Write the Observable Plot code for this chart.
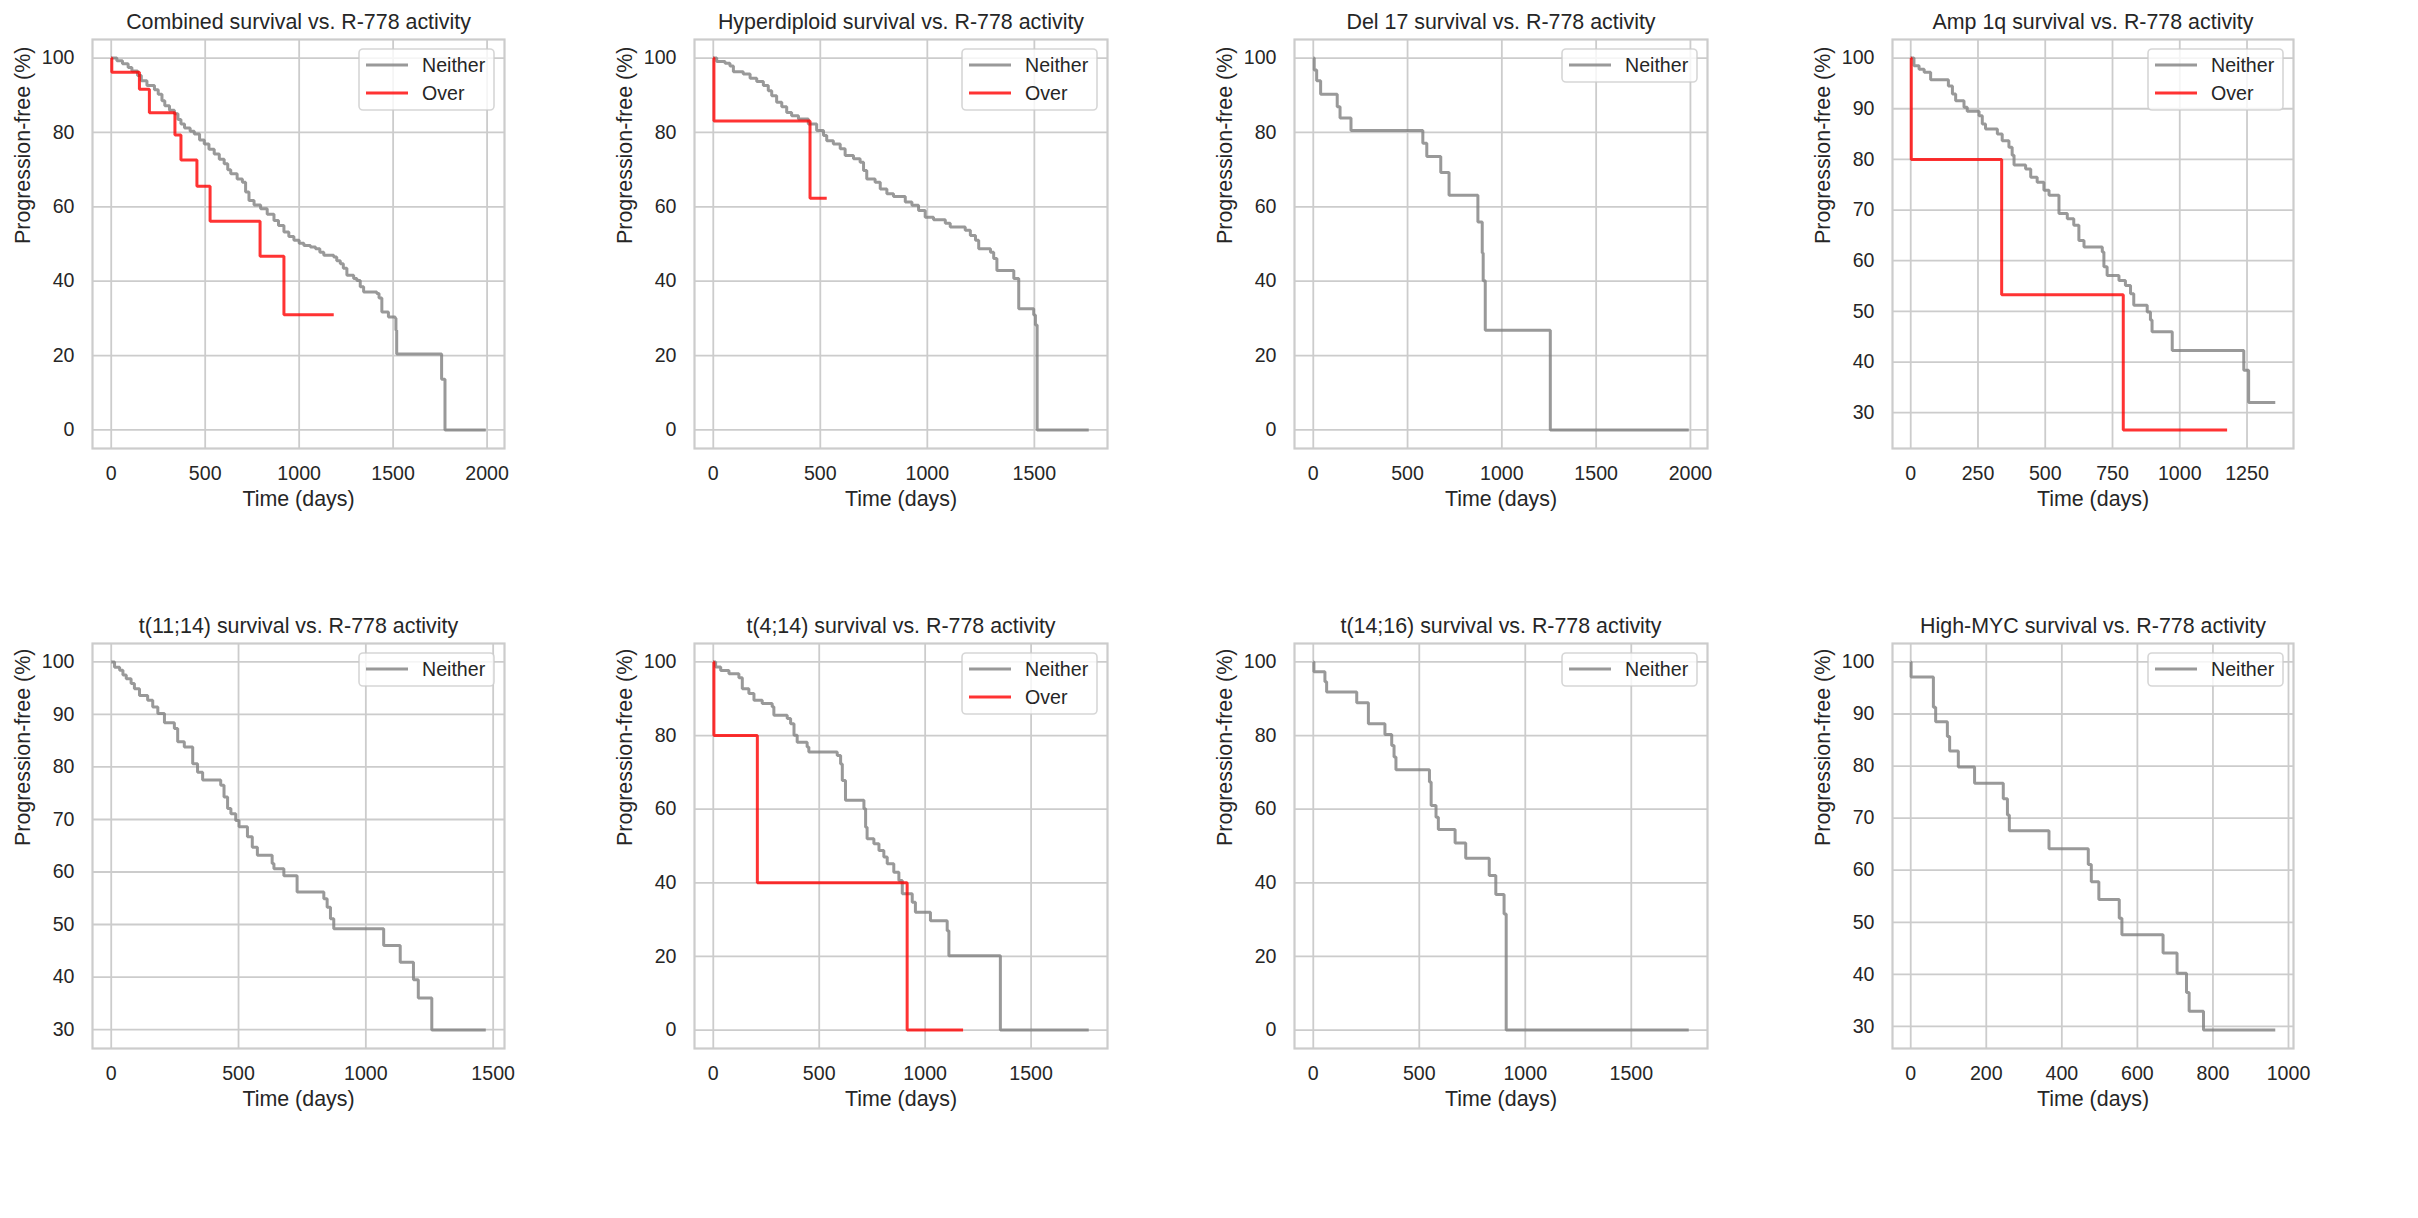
<!DOCTYPE html>
<html><head><meta charset="utf-8">
<script src="https://cdn.jsdelivr.net/npm/d3@7"></script>
<script src="https://cdn.jsdelivr.net/npm/@observablehq/plot@0.6"></script>
<style>
body{margin:0;background:#fff;}
#root{position:relative;width:2418px;height:1218px;overflow:hidden;font-family:"Liberation Sans",Arial,sans-serif;}
#root svg{position:absolute;}
</style></head><body><div id="root"></div>
<script>
// ---------- data: [time (days), progression-free (%)] step points ----------
const titles = [
  "Combined survival vs. R-778 activity",
  "Hyperdiploid survival vs. R-778 activity",
  "Del 17 survival vs. R-778 activity",
  "Amp 1q survival vs. R-778 activity",
  "t(11;14) survival vs. R-778 activity",
  "t(4;14) survival vs. R-778 activity",
  "t(14;16) survival vs. R-778 activity",
  "High-MYC survival vs. R-778 activity"
];
const seriesNames = ["Neither", "Over"];

const combinedNeither = [[0,100],[30,99.3],[60,98.5],[90,97.5],[110,96.5],[140,95.3],[160,93.9],[190,92.6],[230,91.5],[250,90.3],[270,88.5],[285,87.2],[310,86],[336,85],[355,83.5],[371,82.3],[390,81.2],[420,80.3],[442,79.6],[470,78],[495,76.9],[520,75.5],[548,74.2],[575,72.8],[601,71.6],[620,70],[636,68.9],[670,67.5],[698,66.6],[715,64],[733,61.7],[760,60.5],[795,59.5],[830,58],[866,56.3],[890,55],[919,53.2],[945,52],[972,51],[1000,50.2],[1025,49.6],[1060,49.2],[1087,48.7],[1110,47.8],[1131,47],[1184,46.5],[1200,45.5],[1219,44.7],[1235,43.5],[1254,41.6],[1290,40.7],[1307,40.2],[1325,38.5],[1343,37.1],[1413,36.7],[1425,35.5],[1440,31.7],[1475,30.4],[1511,30],[1515,26.8],[1519,20.4],[1758,13.6],[1776,0],[1993,0]];
const combinedOver = [[0,100],[3,96.2],[150,91.6],[203,85.3],[339,79.3],[371,72.6],[456,65.5],[526,56.1],[792,46.7],[919,31.0],[1184,31.0]];

const hyperNeither = [[0,100],[16,99.1],[55,98.6],[78,97.9],[94,96.3],[140,95.7],[172,94.6],[203,93.7],[234,92.6],[257,91.2],[273,89.9],[296,88.1],[320,86.9],[343,85.4],[366,84.5],[398,83.6],[444,82.3],[483,80.5],[515,79.2],[530,77.8],[561,76.9],[593,75.6],[616,73.8],[655,72.9],[686,72],[702,69.8],[717,67.5],[756,66.6],[780,64.8],[811,63.5],[842,62.8],[897,61.3],[928,60.4],[959,59],[990,57.2],[1029,56.5],[1084,55.6],[1107,54.6],[1177,53.7],[1201,52.3],[1225,51],[1240,48.7],[1295,47.8],[1310,46.1],[1325,42.9],[1404,40.7],[1427,32.6],[1497,30.9],[1505,28.2],[1513,0],[1754,0]];
const hyperOver = [[0,100],[3,83.1],[452,62.3],[530,62.3]];

const del17Neither = [[0,100],[5,96.8],[18,93.9],[39,90.3],[127,86.9],[142,83.9],[200,80.5],[581,77.1],[602,73.5],[676,69.2],[720,63.1],[873,55.9],[896,47.6],[901,40.1],[912,26.8],[1257,0],[1991,0]];

const amp1qNeither = [[0,100],[12,98.5],[31,97.8],[50,97.2],[74,95.7],[140,94.5],[155,92.9],[167,91.6],[198,90.3],[210,89.5],[254,88.6],[266,87],[278,86],[322,85],[340,83.7],[365,82.4],[377,80.8],[384,78.9],[427,78.1],[446,76.5],[470,75.5],[495,73.9],[514,72.9],[551,69.3],[582,68.3],[606,67],[625,64],[644,62.7],[712,61.7],[718,58.8],[730,57.1],[774,56.1],[798,55.1],[817,53.5],[829,51.2],[879,49.9],[891,48.3],[897,46],[972,42.3],[1238,38.4],[1256,32],[1355,32]];
const amp1qOver = [[0,100],[2,80],[338,53.3],[790,26.6],[1176,26.6]];

const t1114Neither = [[0,100],[13,99],[33,98.4],[46,97.5],[59,96.8],[78,95.9],[91,94.9],[111,93.6],[143,92.7],[163,91.4],[183,90.2],[209,88.4],[248,87.3],[261,84.8],[287,83.8],[320,80.6],[339,79],[359,77.5],[430,76.5],[443,74.3],[457,72.1],[470,71.1],[489,69.8],[502,68.6],[535,66.7],[554,64.7],[574,63.2],[632,61.6],[639,60.6],[678,59.3],[730,56.2],[835,54.9],[848,53.3],[861,51.1],[874,49.2],[1070,46],[1135,42.8],[1187,39.5],[1206,36],[1259,29.9],[1471,29.9]];

const t414Neither = [[0,100],[11,98.6],[35,97.7],[74,96.8],[121,95.7],[137,92.7],[168,91.4],[192,89.6],[231,88.7],[278,87.8],[286,85.5],[349,84.6],[365,83.2],[381,80.1],[396,78.2],[443,76.9],[451,75.5],[585,74.6],[601,72.3],[609,67.8],[624,62.4],[711,60.1],[719,55.1],[726,52],[758,50.6],[782,48.8],[805,47],[821,45.2],[852,42.9],[876,40.6],[892,37],[939,34.7],[954,32],[1025,29.7],[1104,27],[1112,20.2],[1355,0],[1772,0]];
const t414Over = [[0,100],[3,80],[208,40],[915,0],[1179,0]];

const t1416Neither = [[0,100],[3,97.3],[55,94.6],[63,91.8],[205,88.9],[260,83.2],[338,80.3],[370,77.3],[381,74.2],[390,70.7],[548,67.4],[556,61],[579,57.8],[590,54.5],[669,50.8],[719,46.7],[830,42],[861,36.8],[900,31.5],[910,0],[1771,0]];

const mycNeither = [[0,100],[1,97.1],[60,91.3],[66,88.5],[97,85.7],[103,82.9],[126,79.8],[169,76.7],[245,73.7],[256,70.6],[261,67.6],[366,64.1],[470,61.1],[478,57.8],[498,54.4],[552,50.8],[559,47.6],[668,44.1],[705,40.2],[730,36.5],[737,32.9],[775,29.3],[965,29.3]];

const panelSeries = [
  [combinedNeither, combinedOver],
  [hyperNeither, hyperOver],
  [del17Neither],
  [amp1qNeither, amp1qOver],
  [t1114Neither],
  [t414Neither, t414Over],
  [t1416Neither],
  [mycNeither]
];

const xTickSets = [
  [0,500,1000,1500,2000],
  [0,500,1000,1500],
  [0,500,1000,1500,2000],
  [0,250,500,750,1000,1250],
  [0,500,1000,1500],
  [0,500,1000,1500],
  [0,500,1000,1500],
  [0,200,400,600,800,1000]
];
const yTickSets = [
  [0,20,40,60,80,100],
  [0,20,40,60,80,100],
  [0,20,40,60,80,100],
  [30,40,50,60,70,80,90,100],
  [30,40,50,60,70,80,90,100],
  [0,20,40,60,80,100],
  [0,20,40,60,80,100],
  [30,40,50,60,70,80,90,100]
];
const xLabel = "Time (days)";
const yLabel = "Progression-free (%)";

// ---------- layout & style ----------
const frames = [
  [92,39,504,448],[694,39,1107,448],[1294,39,1707,448],[1892,39,2293,448],
  [92,643,504,1048],[694,643,1107,1048],[1294,643,1707,1048],[1892,643,2293,1048]
];
const colors = ["gray", "red"];
const textColor = "#262626";
const gridColor = "#cccccc";
const font = "Liberation Sans, Arial, sans-serif";
const ml = 95, mr = 14, mt = 45, mb = 75;
const lineW = 3;

const root = document.getElementById("root");

panelSeries.forEach((series, pi) => {
  const [L, T, R, B] = frames[pi];
  const W = R - L, H = B - T;
  const allT = series.flatMap(s => s.map(d => d[0]));
  const allS = series.flatMap(s => s.map(d => d[1]));
  const [x0, x1] = d3.extent(allT);
  const [y0, y1] = d3.extent(allS);
  const xp = (x1 - x0) * 0.05, yp = (y1 - y0) * 0.05;

  const lines = series.map((s, si) => Plot.line(s, {
    x: d => d[0], y: d => d[1], curve: "step-after",
    stroke: colors[si], strokeOpacity: 0.8, strokeWidth: lineW,
    strokeLinejoin: "miter", strokeLinecap: "butt"
  }));

  const chart = Plot.plot({
    width: W + ml + mr, height: H + mt + mb,
    marginLeft: ml, marginRight: mr, marginTop: mt, marginBottom: mb,
    style: {fontFamily: font, color: textColor, background: "transparent", overflow: "visible"},
    x: {domain: [x0 - xp, x1 + xp]},
    y: {domain: [y0 - yp, y1 + yp]},
    marks: [
      Plot.gridX(xTickSets[pi], {stroke: gridColor, strokeOpacity: 1, strokeWidth: 1.8}),
      Plot.gridY(yTickSets[pi], {stroke: gridColor, strokeOpacity: 1, strokeWidth: 1.8}),
      Plot.frame({stroke: gridColor, strokeWidth: 2.2}),
      Plot.axisX(xTickSets[pi], {tickSize: 0, tickPadding: 18, fontSize: 19.6, label: null, tickFormat: d => String(d), fill: textColor}),
      Plot.axisY(yTickSets[pi], {tickSize: 0, tickPadding: 18, fontSize: 19.6, label: null, tickFormat: d => String(d), fill: textColor}),
      ...lines,
      Plot.text([titles[pi]], {text: d => d, frameAnchor: "top", dy: -17, fontSize: 21.4, lineAnchor: "middle", fill: textColor}),
      Plot.text([xLabel], {text: d => d, frameAnchor: "bottom", dy: 51, fontSize: 21.4, lineAnchor: "middle", fill: textColor}),
      Plot.text([yLabel], {text: d => d, frameAnchor: "left", dx: -69, rotate: -90, fontSize: 21.4, lineAnchor: "middle", fill: textColor})
    ]
  });
  chart.style.left = (L - ml) + "px";
  chart.style.top = (T - mt) + "px";

  // legend (upper right)
  const svg = d3.select(chart);
  const n = series.length;
  const bw = 135, bh = n === 1 ? 33 : 61;
  const bx = ml + W - 10 - bw, by = mt + 10;
  const g = svg.append("g").attr("text-anchor", "start");
  g.append("rect").attr("x", bx).attr("y", by).attr("width", bw).attr("height", bh)
    .attr("rx", 4).attr("fill", "white").attr("fill-opacity", 0.8)
    .attr("stroke", "#cccccc").attr("stroke-opacity", 0.8).attr("stroke-width", 1.6);
  series.forEach((s, si) => {
    const yy = by + 16 + 28 * si;
    g.append("line").attr("x1", bx + 7).attr("x2", bx + 49).attr("y1", yy).attr("y2", yy)
      .attr("stroke", colors[si]).attr("stroke-opacity", 0.8).attr("stroke-width", lineW);
    g.append("text").attr("x", bx + 63).attr("y", yy).attr("dy", "0.35em")
      .attr("text-anchor", "start")
      .attr("font-size", 19.6).attr("font-family", font).attr("fill", textColor)
      .text(seriesNames[si]);
  });

  root.appendChild(chart);
});
</script>
</body></html>
